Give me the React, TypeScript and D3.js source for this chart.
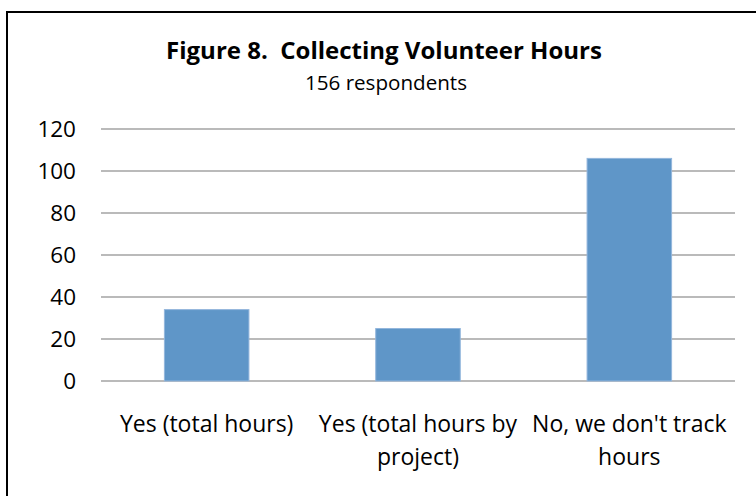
import React from "react";
import * as d3 from "d3";

const categories = ["Yes (total hours)", "Yes (total hours by project)", "No, we don't track hours"];
const categoryLines = [["Yes (total hours)"], ["Yes (total hours by", "project)"], ["No, we don't track", "hours"]];
const values = [34, 25, 106];
const yTicks = [0, 20, 40, 60, 80, 100, 120];
const title = "Figure 8.  Collecting Volunteer Hours";
const subtitle = "156 respondents";

const W = 756;
const H = 496;
const FONT = "'Open Sans', Lato, sans-serif";

export default function App() {
  const y = d3.scaleLinear().domain([0, 120]).range([381, 129]);
  const x = d3.scaleBand<string>().domain(categories).range([101, 735]).padding(0);
  const bw = x.bandwidth() * 0.4;

  return (
    <svg
      width={W}
      height={H}
      viewBox={`0 0 ${W} ${H}`}
      style={{ position: "fixed", left: 0, top: 0, background: "#fff" }}
    >
      <rect x={0} y={0} width={W} height={H} fill="#fff" />
      {/* frame (only top and left visible) */}
      <rect x={7} y={12} width={W + 20} height={H + 20} fill="none" stroke="#000" strokeWidth={2} />

      <text
        x={384}
        y={59}
        textAnchor="middle"
        fontFamily={FONT}
        fontWeight="bold"
        fontSize={24}
        fill="#000"
        style={{ whiteSpace: "pre" }}
      >
        {title}
      </text>
      <text x={386} y={90} textAnchor="middle" fontFamily={FONT} fontSize={20.6} fill="#000">
        {subtitle}
      </text>

      {yTicks.map((t) => (
        <g key={t}>
          <line x1={101} x2={735} y1={y(t)} y2={y(t)} stroke="#a3a3a3" strokeWidth={1.6} />
          <text x={76} y={y(t)} dy="0.36em" textAnchor="end" fontFamily={FONT} fontSize={22.5} fill="#000">
            {t}
          </text>
        </g>
      ))}

      {categories.map((c, i) => {
        const cx = (x(c) as number) + x.bandwidth() / 2;
        return (
          <g key={c}>
            <rect
              x={cx - bw / 2}
              y={y(values[i])}
              width={bw}
              height={y(0) - y(values[i])}
              fill="#5f96c8"
              stroke="#93b6dc"
              strokeWidth={1}
            />
            {categoryLines[i].map((ln, j) => (
              <text
                key={j}
                x={cx}
                y={432 + j * 33}
                textAnchor="middle"
                fontFamily={FONT}
                fontSize={23}
                fill="#000"
              >
                {ln}
              </text>
            ))}
          </g>
        );
      })}
    </svg>
  );
}
